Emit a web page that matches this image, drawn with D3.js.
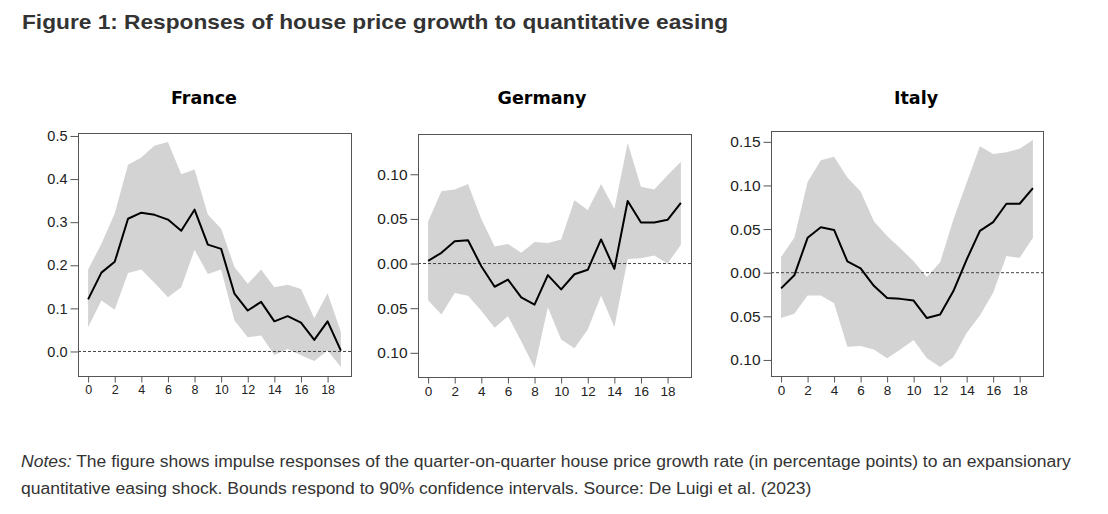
<!DOCTYPE html>
<html>
<head>
<meta charset="utf-8">
<script src="https://cdn.jsdelivr.net/npm/d3@7"></script>
<style>
  html, body { margin: 0; padding: 0; background: #fff; }
  svg { display: block; }
</style>
</head>
<body>
<svg id="chart" width="1108" height="514"></svg>
<script>
// ---------------- DATA ----------------
const horizons = d3.range(0, 20);
const xTicks = [0, 2, 4, 6, 8, 10, 12, 14, 16, 18];

const countries = ["France", "Germany", "Italy"];

const franceIRF   = [0.121, 0.183, 0.208, 0.308, 0.322, 0.317, 0.306, 0.280, 0.329, 0.248, 0.238, 0.134, 0.095, 0.115, 0.070, 0.082, 0.067, 0.027, 0.070, 0.002];
const franceUpper = [0.190, 0.250, 0.320, 0.433, 0.450, 0.478, 0.486, 0.411, 0.422, 0.318, 0.285, 0.196, 0.157, 0.190, 0.149, 0.155, 0.145, 0.077, 0.135, 0.045];
const franceLower = [0.056, 0.118, 0.097, 0.182, 0.190, 0.159, 0.126, 0.149, 0.236, 0.180, 0.190, 0.072, 0.033, 0.037, -0.008, 0.006, -0.009, -0.022, 0.002, -0.036];

const germanyIRF   = [0.003, 0.012, 0.025, 0.026, -0.003, -0.026, -0.018, -0.038, -0.046, -0.013, -0.029, -0.012, -0.007, 0.027, -0.006, 0.070, 0.046, 0.046, 0.049, 0.068];
const germanyUpper = [0.047, 0.081, 0.083, 0.089, 0.050, 0.019, 0.022, 0.012, 0.024, 0.023, 0.027, 0.071, 0.060, 0.089, 0.061, 0.135, 0.086, 0.083, 0.099, 0.114];
const germanyLower = [-0.041, -0.057, -0.033, -0.036, -0.053, -0.072, -0.059, -0.087, -0.117, -0.049, -0.085, -0.095, -0.074, -0.036, -0.071, 0.005, 0.006, 0.009, 0.000, 0.021];

const italyIRF   = [-0.018, -0.003, 0.040, 0.052, 0.049, 0.013, 0.005, -0.015, -0.029, -0.030, -0.032, -0.052, -0.048, -0.021, 0.015, 0.048, 0.058, 0.079, 0.079, 0.097];
const italyUpper = [0.018, 0.040, 0.104, 0.129, 0.133, 0.109, 0.093, 0.059, 0.042, 0.028, 0.013, -0.005, 0.012, 0.061, 0.103, 0.145, 0.136, 0.138, 0.142, 0.152];
const italyLower = [-0.052, -0.047, -0.026, -0.026, -0.035, -0.085, -0.084, -0.088, -0.098, -0.088, -0.077, -0.098, -0.108, -0.097, -0.069, -0.049, -0.023, 0.019, 0.017, 0.040];

const franceYTicks  = [0, 0.1, 0.2, 0.3, 0.4, 0.5];
const franceYLabels = ["0.0", "0.1", "0.2", "0.3", "0.4", "0.5"];
const germanyYTicks  = [-0.10, -0.05, 0, 0.05, 0.10];
const germanyYLabels = ["0.10", "0.05", "0.00", "0.05", "0.10"];
const italyYTicks  = [-0.10, -0.05, 0, 0.05, 0.10, 0.15];
const italyYLabels = ["0.10", "0.05", "0.00", "0.05", "0.10", "0.15"];

const titleText = "Figure 1: Responses of house price growth to quantitative easing";
const notesLead = "Notes:";
const notesLine1 = " The figure shows impulse responses of the quarter-on-quarter house price growth rate (in percentage points) to an expansionary";
const notesLine2 = "quantitative easing shock. Bounds respond to 90% confidence intervals. Source: De Luigi et al. (2023)";

// ---------------- LAYOUT ----------------
const svg = d3.select("#chart");
const panels = [
  { name: countries[0], irf: franceIRF, up: franceUpper, lo: franceLower, ticks: franceYTicks, labels: franceYLabels,
    left: 78, top: 133, w: 273, h: 243, titleX: 204, yFont: 14.5, xFont: 12.5 },
  { name: countries[1], irf: germanyIRF, up: germanyUpper, lo: germanyLower, ticks: germanyYTicks, labels: germanyYLabels,
    left: 418, top: 134, w: 273, h: 243, titleX: 542, yFont: 15.5, xFont: 13.5 },
  { name: countries[2], irf: italyIRF, up: italyUpper, lo: italyLower, ticks: italyYTicks, labels: italyYLabels,
    left: 771, top: 131, w: 272, h: 245, titleX: 916, yFont: 15.5, xFont: 13.5 }
];

// Title
svg.append("text")
  .attr("x", 22).attr("y", 29)
  .attr("font-family", "'Liberation Sans', Arial, sans-serif")
  .attr("font-weight", "bold")
  .attr("font-size", 21)
  .attr("fill", "#333")
  .attr("textLength", 706)
  .attr("lengthAdjust", "spacingAndGlyphs")
  .text(titleText);

panels.forEach(p => {
  // R-style 4% padding on both axes
  const xExt = [0, 19];
  const xPad = (xExt[1] - xExt[0]) * 0.04;
  const yMin = d3.min(p.lo), yMax = d3.max(p.up);
  const yPad = (yMax - yMin) * 0.04;

  const x = d3.scaleLinear().domain([xExt[0] - xPad, xExt[1] + xPad]).range([p.left, p.left + p.w]);
  const y = d3.scaleLinear().domain([yMin - yPad, yMax + yPad]).range([p.top + p.h, p.top]);

  const g = svg.append("g");

  // Confidence band
  const area = d3.area()
    .x((d, i) => x(horizons[i]))
    .y0((d, i) => y(p.lo[i]))
    .y1((d, i) => y(p.up[i]));
  g.append("path").datum(p.irf).attr("d", area).attr("fill", "#d3d3d3").attr("stroke", "none");

  // zero line
  g.append("line")
    .attr("x1", p.left).attr("x2", p.left + p.w)
    .attr("y1", y(0)).attr("y2", y(0))
    .attr("stroke", "#444").attr("stroke-width", 1).attr("stroke-dasharray", "3,2");

  // IRF line
  const line = d3.line().x((d, i) => x(horizons[i])).y(d => y(d));
  g.append("path").datum(p.irf).attr("d", line)
    .attr("fill", "none").attr("stroke", "#000").attr("stroke-width", 2).attr("stroke-linejoin", "round");

  // Frame
  g.append("rect")
    .attr("x", p.left + 0.5).attr("y", p.top + 0.5)
    .attr("width", p.w).attr("height", p.h)
    .attr("fill", "none").attr("stroke", "#555").attr("stroke-width", 1);

  // Y axis
  const yAxis = d3.axisLeft(y).tickValues(p.ticks)
    .tickFormat((d, i) => p.labels[i]).tickSize(8).tickPadding(3);
  const ya = g.append("g").attr("transform", `translate(${p.left + 0.5},0)`).call(yAxis);
  ya.select(".domain").remove();
  ya.selectAll("line").attr("stroke", "#555");
  ya.selectAll("text")
    .attr("font-family", "'Liberation Sans', Arial, sans-serif")
    .attr("font-size", p.yFont).attr("fill", "#222");

  // X axis
  const xAxis = d3.axisBottom(x).tickValues(xTicks).tickSize(6).tickPadding(3);
  const xa = g.append("g").attr("transform", `translate(0,${p.top + p.h + 0.5})`).call(xAxis);
  xa.select(".domain").remove();
  xa.selectAll("line").attr("stroke", "#555");
  xa.selectAll("text")
    .attr("font-family", "'Liberation Sans', Arial, sans-serif")
    .attr("font-size", p.xFont).attr("fill", "#222");

  // Panel title
  svg.append("text")
    .attr("x", p.titleX).attr("y", 104)
    .attr("text-anchor", "middle")
    .attr("font-family", "'DejaVu Sans', Verdana, sans-serif")
    .attr("font-weight", "bold")
    .attr("font-size", 17.5)
    .attr("fill", "#000")
    .text(p.name);
});

// Notes (source text is slightly wide-set; stretched horizontally to match)
const notes = svg.append("g").attr("transform", "translate(21,0) scale(1.095,1)");
const n1 = notes.append("text")
  .attr("x", 0).attr("y", 467)
  .attr("font-family", "'Liberation Sans', Arial, sans-serif")
  .attr("font-size", 16)
  .attr("fill", "#333");
n1.append("tspan").attr("font-style", "italic").text(notesLead);
n1.append("tspan").text(notesLine1);

notes.append("text")
  .attr("x", 0).attr("y", 494)
  .attr("font-family", "'Liberation Sans', Arial, sans-serif")
  .attr("font-size", 16)
  .attr("fill", "#333")
  .text(notesLine2);
</script>
</body>
</html>
